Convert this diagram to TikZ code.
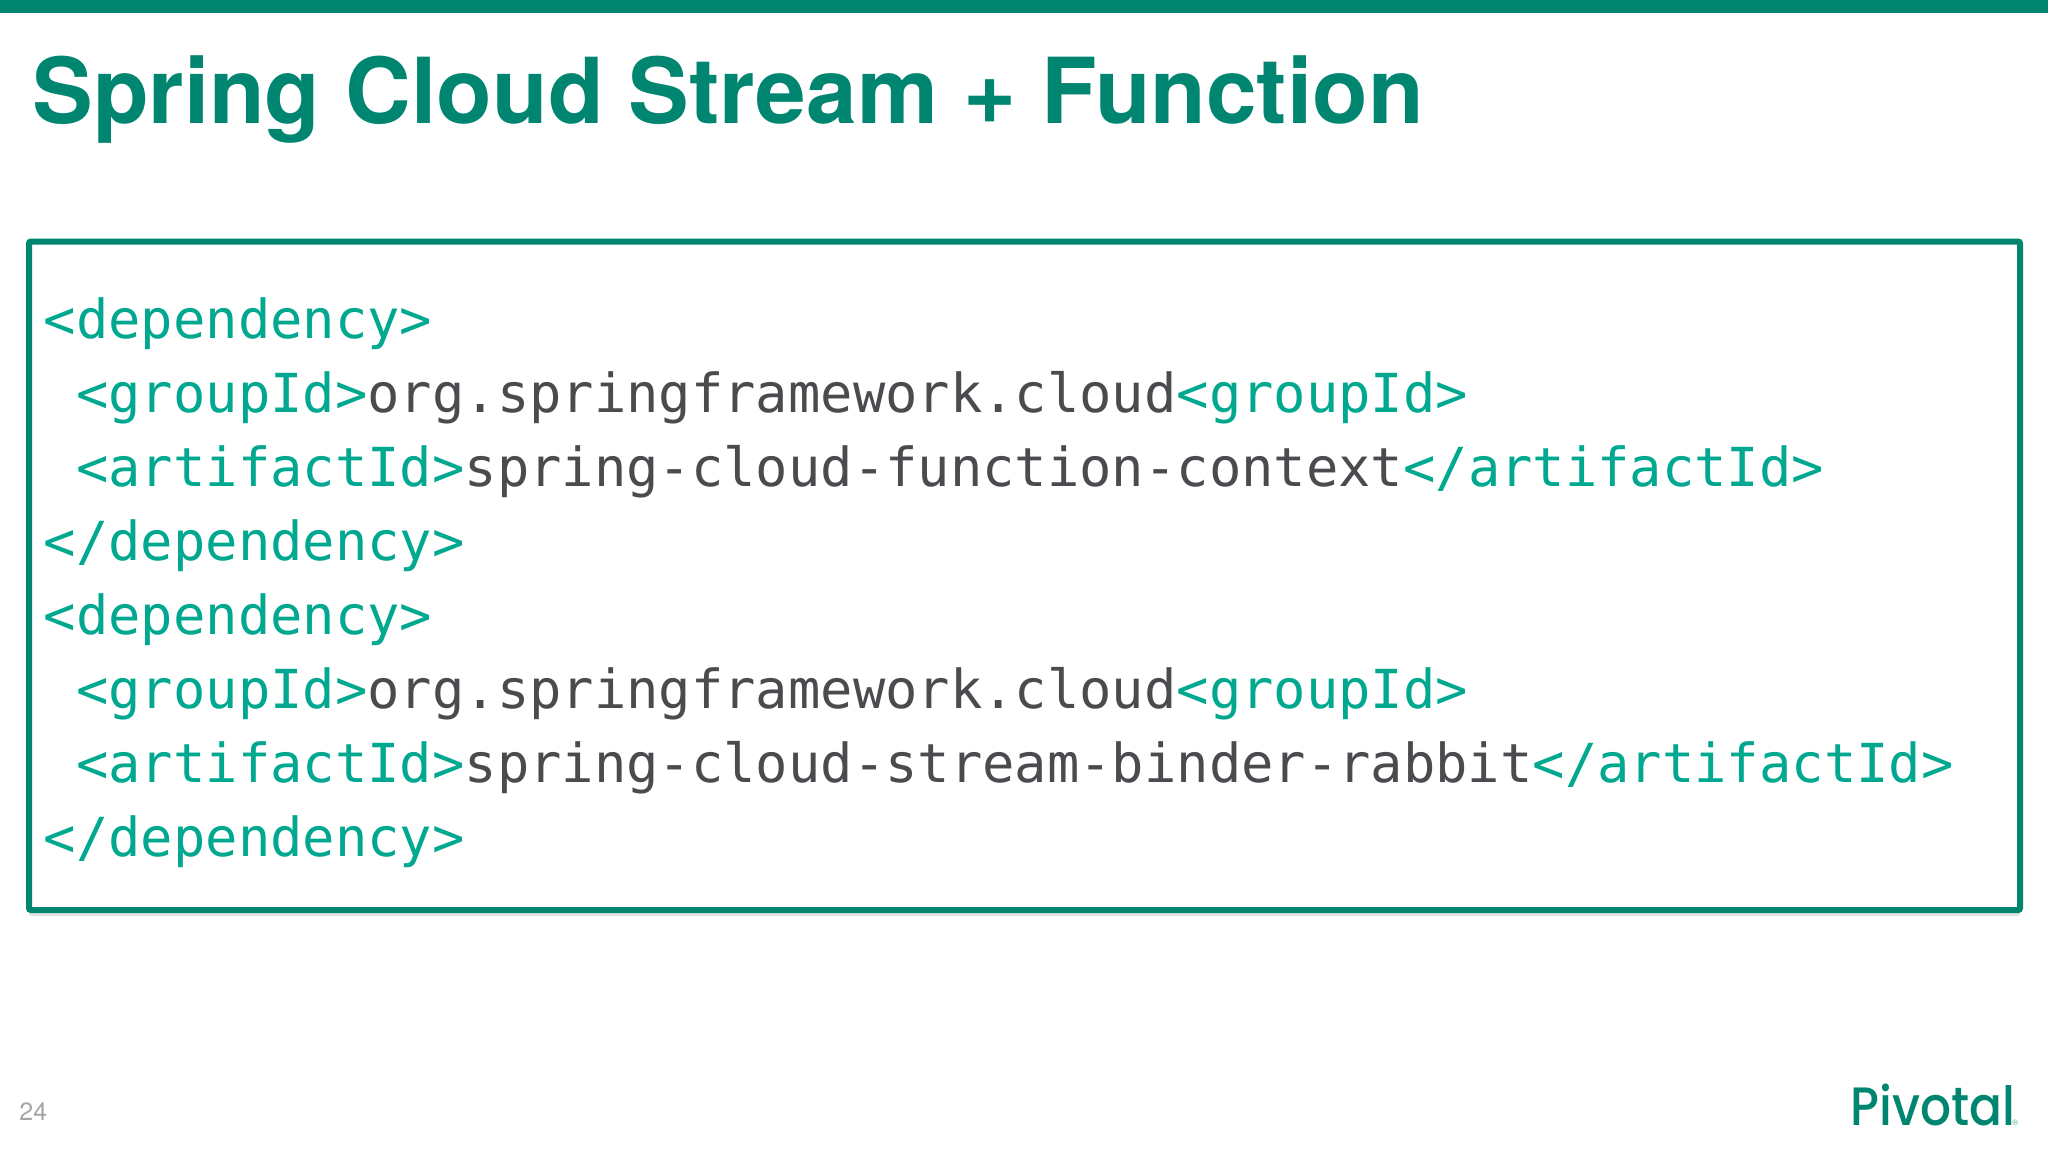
\documentclass[tikz,border=0pt]{standalone}
\usepackage{fontspec}
\usetikzlibrary{shadows}
\setmainfont{TeX Gyre Heros}
\newfontfamily\codefont{DejaVu Sans Mono}
\newfontfamily\logofont[UprightFont=* Medium,FakeStretch=0.9]{Poppins}
\definecolor{pivgreen}{HTML}{008570}
\definecolor{tagteal}{HTML}{00A88F}
\definecolor{codegray}{HTML}{4B4B4F}
\definecolor{pagegray}{HTML}{A6A4A8}
\newcommand{\tagtext}[1]{\textcolor{tagteal}{#1}}
\tikzset{
	codebox/.style={draw=pivgreen,line width=3pt,fill=white,rounded corners=1pt,minimum width=995.5pt,minimum height=334.25pt,inner sep=0pt,drop shadow={shadow xshift=0pt,shadow yshift=-3pt,opacity=.22}},
	codeline/.style={anchor=base west,inner sep=0pt,text=codegray,font=\codefont\fontsize{26.88}{30}\selectfont},
}
\begin{document}
\begin{tikzpicture}[x=0.5pt,y=-0.5pt]
		\useasboundingbox (0,0) rectangle (2048,1152);
		\fill [pivgreen] (0,0) rectangle (2048,12.5);
		\node (title) [anchor=base west,inner sep=0pt,text=pivgreen,font=\bfseries\fontsize{45.5}{50}\selectfont] at (32,123) {Spring Cloud Stream + Function};
		\node (box) [codebox] at (1024.5,575.75) {};
		\node (dep1) [codeline] at (43.5,338) {\tagtext{<dependency>}};
		\node (group1) [codeline,xshift=16.18pt,yshift=-37pt] at (dep1.base west) {\tagtext{<groupId>}org.springframework.cloud\tagtext{<groupId>}};
		\node (art1) [codeline,yshift=-37pt] at (group1.base west) {\tagtext{<artifactId>}spring-cloud-function-context\tagtext{</artifactId>}};
		\node (end1) [codeline,xshift=-16.18pt,yshift=-37pt] at (art1.base west) {\tagtext{</dependency>}};
		\node (dep2) [codeline,yshift=-37pt] at (end1.base west) {\tagtext{<dependency>}};
		\node (group2) [codeline,xshift=16.18pt,yshift=-37pt] at (dep2.base west) {\tagtext{<groupId>}org.springframework.cloud\tagtext{<groupId>}};
		\node (art2) [codeline,yshift=-37pt] at (group2.base west) {\tagtext{<artifactId>}spring-cloud-stream-binder-rabbit\tagtext{</artifactId>}};
		\node (end2) [codeline,xshift=-16.18pt,yshift=-37pt] at (art2.base west) {\tagtext{</dependency>}};
		\node (page) [anchor=base west,inner sep=0pt,text=pagegray,font=\fontsize{12.5}{14}\selectfont] at (19,1120) {24};
		\node (logo) [anchor=base west,inner sep=0pt,text=pivgreen,font=\logofont\fontsize{27}{30}\selectfont] at (1850,1125) {Pivotal};
		\node (mark) [anchor=base west,inner sep=0pt,text=pivgreen!70,font=\fontsize{4}{5}\selectfont] at (2012,1125) {®};
	\end{tikzpicture}
\end{document}
